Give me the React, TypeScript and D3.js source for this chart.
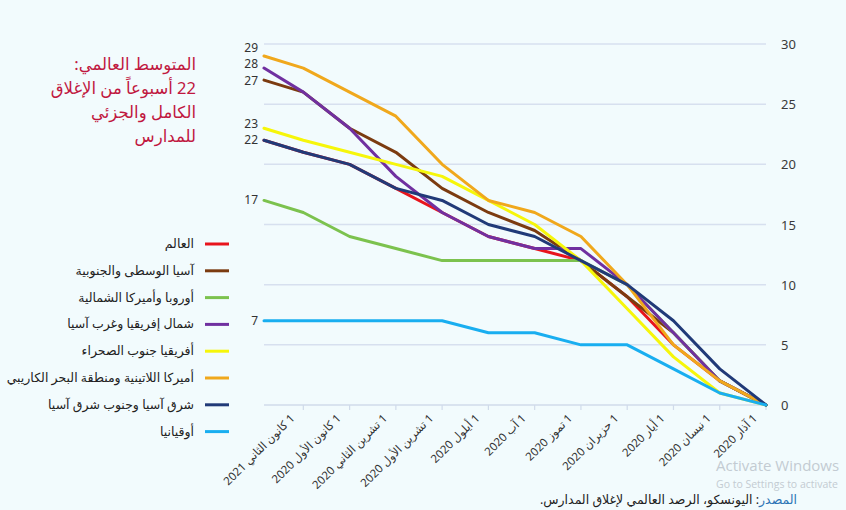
import React from "react";
import * as d3 from "d3";

// x categories, left to right
const categories = [
  "1 كانون الثاني 2021",
  "1 كانون الأول 2020",
  "1 تشرين الثاني 2020",
  "1 تشرين الأول 2020",
  "1 أيلول 2020",
  "1 آب 2020",
  "1 تموز 2020",
  "1 حزيران 2020",
  "1 أيار 2020",
  "1 نيسان 2020",
  "1 آذار 2020",
];
// position of each data point in months (0 = 1 Jan 2021, 10 = 1 March 2020); first point is the latest reading
const pointMonths = [-0.85, 0, 1, 2, 3, 4, 5, 6, 7, 8, 9, 10];

const world = [22, 21, 20, 18, 16, 14, 13, 12, 9, 5, 2, 0];
const centralSouthAsia = [27, 26, 23, 21, 18, 16, 14.5, 12, 9, 6, 2, 0];
const europeNorthAmerica = [17, 16, 14, 13, 12, 12, 12, 12, 10, 6, 2, 0];
const northAfricaWestAsia = [28, 26, 23, 19, 16, 14, 13, 13, 10, 6, 2, 0];
const subSaharanAfrica = [23, 22, 21, 20, 19, 17, 15, 12, 8, 4, 1, 0];
const latinAmericaCaribbean = [29, 28, 26, 24, 20, 17, 16, 14, 10, 5, 2, 0];
const eastSouthEastAsia = [22, 21, 20, 18, 17, 15, 14, 12, 10, 7, 3, 0];
const oceania = [7, 7, 7, 7, 7, 6, 6, 5, 5, 3, 1, 0];

const seriesNames = [
  "العالم",
  "آسيا الوسطى والجنوبية",
  "أوروبا وأميركا الشمالية",
  "شمال إفريقيا وغرب آسيا",
  "أفريقيا جنوب الصحراء",
  "أميركا اللاتينية ومنطقة البحر الكاريبي",
  "شرق آسيا وجنوب شرق آسيا",
  "أوقيانيا",
];
const seriesValues = [
  world,
  centralSouthAsia,
  europeNorthAmerica,
  northAfricaWestAsia,
  subSaharanAfrica,
  latinAmericaCaribbean,
  eastSouthEastAsia,
  oceania,
];
const seriesColors = [
  "#e8141c",
  "#7b3b10",
  "#7cc24e",
  "#7030a0",
  "#f6f60a",
  "#f0a81c",
  "#213a78",
  "#19aef0",
];
// start labels shown at left (series index -> pixel nudge)
const startLabelSeries = [5, 3, 1, 4, 6, 2, 7];
const startLabelNudge = [-8, -4, 1, -4, 0, 0, 0];

const yTicks = [0, 5, 10, 15, 20, 25, 30];

const titleLines = [
  "المتوسط العالمي:",
  "22 أسبوعاً من الإغلاق",
  "الكامل والجزئي",
  "للمدارس",
];

const W = 846;
const H = 510;
const plot = { left: 264, right: 766, top: 44, bottom: 405 };
const FONT = "'Noto Sans', 'DejaVu Sans', sans-serif";

export default function App() {
  const x = d3
    .scaleLinear()
    .domain([d3.min(pointMonths)!, d3.max(pointMonths)!])
    .range([plot.left, plot.right]);
  const y = d3.scaleLinear().domain([0, 30]).range([plot.bottom, plot.top]);
  const line = d3
    .line<number>()
    .x((_, i) => x(pointMonths[i]))
    .y((d) => y(d));

  return (
    <svg
      width={W}
      height={H}
      style={{ position: "absolute", left: 0, top: 0, background: "#f2fbfd" }}
      fontFamily={FONT}
    >
      <rect x={0} y={0} width={W} height={H} fill="#f2fbfd" />
      {/* title */}
      {titleLines.map((t, i) => (
        <text
          key={i}
          x={196}
          y={70 + i * 24}
          direction="rtl"
          textAnchor="start"
          fontSize={16.5}
          fill="#c0173f"
        >
          {t}
        </text>
      ))}
      {/* grid */}
      {yTicks.slice(1).map((t) => (
        <line
          key={t}
          x1={plot.left}
          x2={plot.right}
          y1={y(t)}
          y2={y(t)}
          stroke="#d7e0ef"
          strokeWidth={1.5}
        />
      ))}
      <line
        x1={plot.left}
        x2={plot.right}
        y1={y(0)}
        y2={y(0)}
        stroke="#d0dbea"
        strokeWidth={1.5}
      />
      {categories.map((c, i) => (
        <line
          key={c}
          x1={x(i)}
          x2={x(i)}
          y1={y(0)}
          y2={y(0) + 5}
          stroke="#d0dbea"
          strokeWidth={1.2}
        />
      ))}
      {/* y labels */}
      {yTicks.map((t) => (
        <text key={t} x={781} y={y(t) + 5} fontSize={13} fill="#3a3a3a">
          {t}
        </text>
      ))}
      {/* x labels */}
      {categories.map((c, i) => (
        <text
          key={c}
          transform={`translate(${x(i) - 8},${y(0) + 14}) rotate(-45)`}
          direction="rtl"
          textAnchor="start"
          fontSize={11.5}
          fill="#333"
        >
          {c}
        </text>
      ))}
      {/* lines */}
      {seriesValues.map((s, i) => (
        <path
          key={i}
          d={line(s) || ""}
          fill="none"
          stroke={seriesColors[i]}
          strokeWidth={3}
          strokeLinejoin="round"
          strokeLinecap="round"
        />
      ))}
      {/* start labels */}
      {startLabelSeries.map((si, k) => (
        <text
          key={si}
          x={258}
          y={y(seriesValues[si][0]) + 4 + startLabelNudge[k]}
          textAnchor="end"
          fontSize={12}
          fill="#333"
        >
          {seriesValues[si][0]}
        </text>
      ))}
      {/* legend */}
      {seriesNames.map((n, i) => (
        <g key={n} transform={`translate(0,${244 + i * 26.8})`}>
          <line x1={205} x2={229} y1={0} y2={0} stroke={seriesColors[i]} strokeWidth={3} />
          <text x={194} y={4} direction="rtl" textAnchor="start" fontSize={12.5} fill="#222">
            {n}
          </text>
        </g>
      ))}
      {/* watermark */}
      <text x={716} y={471} fontSize={15} fill="#c3cbd2" fontFamily="'Open Sans', sans-serif">
        Activate Windows
      </text>
      <text x={716} y={488} fontSize={10.5} fill="#c3cbd2" fontFamily="'Open Sans', sans-serif">
        Go to Settings to activate
      </text>
      {/* source */}
      <text x={797} y={504} direction="rtl" textAnchor="start" fontSize={12.5} fill="#222">
        <tspan fill="#2e75b6">المصدر</tspan>
        <tspan>: اليونسكو، الرصد العالمي لإغلاق المدارس.</tspan>
      </text>
    </svg>
  );
}
